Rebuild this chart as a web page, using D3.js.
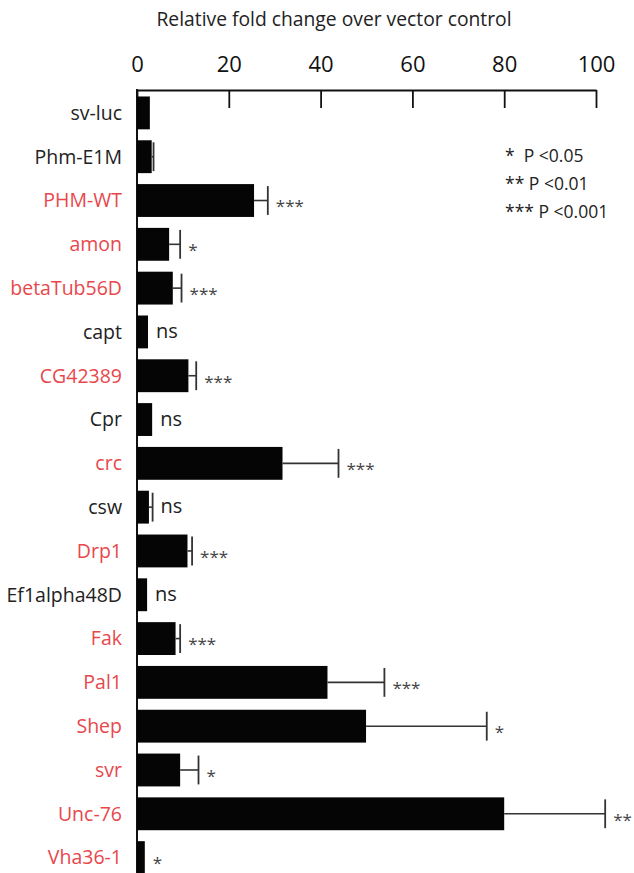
<!DOCTYPE html>
<html>
<head>
<meta charset="utf-8">
<script src="https://cdn.jsdelivr.net/npm/d3@7"></script>
<style>
  body { margin: 0; background: #fff; }
  svg { display: block; font-family: "Open Sans", sans-serif; }
</style>
</head>
<body>
<div id="chart"></div>
<script>
// Fold change per construct
const genes = ["sv-luc", "Phm-E1M", "PHM-WT", "amon", "betaTub56D", "capt", "CG42389", "Cpr", "crc",
  "csw", "Drp1", "Ef1alpha48D", "Fak", "Pal1", "Shep", "svr", "Unc-76", "Vha36-1"];
const foldChange = [2.8, 3.2, 25.5, 7.0, 7.8, 2.4, 11.2, 3.3, 31.7, 2.6, 11.0, 2.2, 8.4, 41.5, 49.9, 9.4, 80.0, 1.7];
const errorTop = [null, 3.6, 28.5, 9.4, 9.7, null, 12.9, null, 43.9, 3.4, 12.0, null, 9.4, 53.9, 76.2, 13.4, 102, null];
const significance = ["", "", "***", "*", "***", "ns", "***", "ns", "***", "ns", "***", "ns", "***", "***", "*", "*", "**", "*"];
const highlighted = [false, false, true, true, true, false, true, false, true, false, true, false, true, true, true, true, true, true];
const xTicks = [0, 20, 40, 60, 80, 100];
const legendLines = ["*  P <0.05", "** P <0.01", "*** P <0.001"];

const width = 634, height = 873;
const svg = d3.select("#chart").append("svg")
  .attr("width", width)
  .attr("height", height);

const x = d3.scaleLinear().domain([0, 100]).range([137, 596]);
const y = d3.scaleBand().domain(genes).range([91, 879.5])
  .paddingInner(0.25).paddingOuter(0.125);

// title
svg.append("text")
  .attr("x", 334).attr("y", 26)
  .attr("text-anchor", "middle")
  .attr("font-size", 19.3)
  .attr("fill", "#222")
  .text("Relative fold change over vector control");

// top axis, ticks pointing down into the plot
const axis = svg.append("g")
  .attr("transform", "translate(0,90)")
  .call(d3.axisTop(x).tickValues(xTicks).tickSizeInner(-18).tickSizeOuter(0).tickPadding(18));
axis.select(".domain").attr("stroke", "#111").attr("stroke-width", 2);
axis.selectAll(".tick line").attr("stroke", "#111").attr("stroke-width", 1.8);
axis.selectAll(".tick text")
  .attr("font-size", 22)
  .attr("fill", "#111")
  .attr("font-family", "'Open Sans', sans-serif");

// vertical baseline
svg.append("line")
  .attr("x1", x(0)).attr("x2", x(0))
  .attr("y1", 89).attr("y2", height)
  .attr("stroke", "#111").attr("stroke-width", 2);

const rows = genes.map((g, i) => ({
  gene: g, value: foldChange[i], err: errorTop[i], sig: significance[i], red: highlighted[i]
}));

// bars
svg.selectAll("rect.bar")
  .data(rows)
  .enter().append("rect")
  .attr("class", "bar")
  .attr("x", x(0))
  .attr("y", d => y(d.gene))
  .attr("width", d => x(d.value) - x(0))
  .attr("height", y.bandwidth())
  .attr("fill", "#050505");

// error bars
const withErr = rows.filter(d => d.err != null);
svg.selectAll("line.err")
  .data(withErr)
  .enter().append("line")
  .attr("class", "err")
  .attr("x1", d => x(d.value))
  .attr("x2", d => x(d.err))
  .attr("y1", d => y(d.gene) + y.bandwidth() / 2)
  .attr("y2", d => y(d.gene) + y.bandwidth() / 2)
  .attr("stroke", "#333").attr("stroke-width", 1.6);
svg.selectAll("line.cap")
  .data(withErr)
  .enter().append("line")
  .attr("class", "cap")
  .attr("x1", d => x(d.err))
  .attr("x2", d => x(d.err))
  .attr("y1", d => y(d.gene) + 2)
  .attr("y2", d => y(d.gene) + y.bandwidth() - 2)
  .attr("stroke", "#333").attr("stroke-width", 1.8);

// gene labels
svg.selectAll("text.gene")
  .data(rows)
  .enter().append("text")
  .attr("class", "gene")
  .attr("x", 122)
  .attr("y", d => y(d.gene) + y.bandwidth() / 2)
  .attr("dy", "0.35em")
  .attr("text-anchor", "end")
  .attr("font-size", 19.5)
  .attr("fill", d => d.red ? "#e8474c" : "#222")
  .text(d => d.gene);

// significance marks
svg.selectAll("text.sig")
  .data(rows.filter(d => d.sig))
  .enter().append("text")
  .attr("class", "sig")
  .attr("x", d => x(Math.max(d.value, d.err || 0)) + 8)
  .attr("y", d => y(d.gene) + y.bandwidth() / 2)
  .attr("dy", d => d.sig === "ns" ? "0.3em" : "0.7em")
  .attr("font-size", d => d.sig === "ns" ? 20 : 17)
  .attr("fill", d => d.sig === "ns" ? "#222" : "#444")
  .text(d => d.sig);

// legend
svg.selectAll("text.legend")
  .data(legendLines)
  .enter().append("text")
  .attr("class", "legend")
  .attr("x", 505)
  .attr("y", (d, i) => 162 + i * 28)
  .attr("font-size", 17.5)
  .attr("fill", "#222")
  .attr("xml:space", "preserve")
  .text(d => d);
</script>
</body>
</html>
